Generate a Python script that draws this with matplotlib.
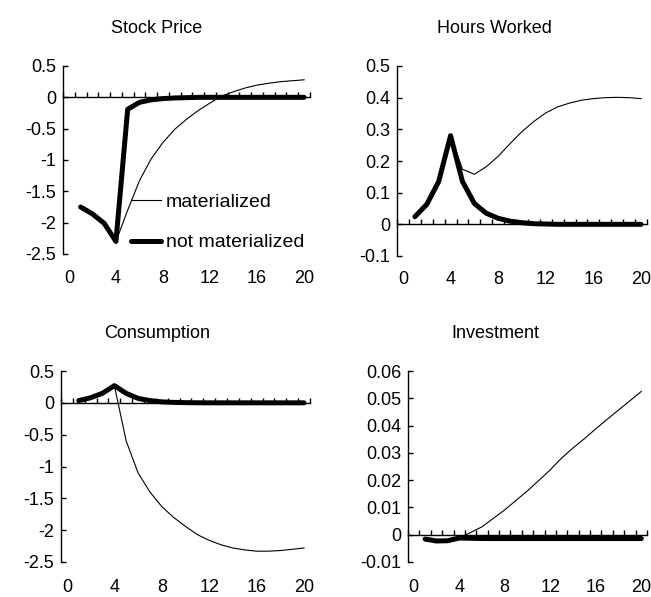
import numpy as np
import matplotlib
matplotlib.use("Agg")
import matplotlib.pyplot as plt

plt.rcParams["font.family"] = ["Liberation Sans", "DejaVu Sans"]
plt.rcParams["axes.unicode_minus"] = False

# quarters after the news shock
periods = list(range(1, 21))
series_labels = ["materialized", "not materialized"]

# Stock Price
stock_mat = [-1.75, -1.86, -2.01, -2.30, -1.80, -1.33, -0.98, -0.72, -0.51, -0.35,
             -0.21, -0.09, 0.02, 0.09, 0.15, 0.195, 0.225, 0.25, 0.265, 0.28]
stock_not = [-1.75, -1.86, -2.01, -2.30, -0.19, -0.08, -0.04, -0.02, -0.01, -0.005,
             0.0, 0.0, 0.0, 0.0, 0.0, 0.0, 0.0, 0.0, 0.0, 0.0]

# Hours Worked
hours_mat = [0.024, 0.063, 0.135, 0.28, 0.174, 0.158, 0.182, 0.215, 0.255, 0.293,
             0.325, 0.352, 0.371, 0.383, 0.392, 0.397, 0.400, 0.401, 0.400, 0.397]
hours_not = [0.024, 0.063, 0.135, 0.28, 0.135, 0.066, 0.035, 0.019, 0.010, 0.005,
             0.002, 0.001, 0.0, 0.0, 0.0, 0.0, 0.0, 0.0, 0.0, 0.0]

# Consumption
cons_mat = [0.035, 0.08, 0.15, 0.27, -0.60, -1.10, -1.40, -1.63, -1.80, -1.94,
            -2.07, -2.16, -2.23, -2.28, -2.31, -2.33, -2.33, -2.32, -2.30, -2.28]
cons_not = [0.035, 0.08, 0.15, 0.27, 0.149, 0.07, 0.035, 0.015, 0.007, 0.003,
            0.001, 0.0, 0.0, 0.0, 0.0, 0.0, 0.0, 0.0, 0.0, 0.0]

# Investment
inv_mat = [-0.0016, -0.0023, -0.0022, -0.0012, 0.0008, 0.0029, 0.0060, 0.0091, 0.0126, 0.0161,
           0.0199, 0.0238, 0.0281, 0.0318, 0.0352, 0.0388, 0.0423, 0.0457, 0.0491, 0.0525]
inv_not = [-0.0016, -0.0023, -0.0022, -0.0012, -0.0013, -0.0014, -0.0014, -0.0014, -0.0014, -0.0014,
           -0.0014, -0.0014, -0.0014, -0.0014, -0.0014, -0.0014, -0.0014, -0.0014, -0.0014, -0.0014]

titles = ["Stock Price", "Hours Worked", "Consumption", "Investment"]

stock_ticks = [0.5, 0, -0.5, -1, -1.5, -2, -2.5]
stock_ticklabels = ["0.5", "0", "-0.5", "-1", "-1.5", "-2", "-2.5"]
hours_ticks = [0.5, 0.4, 0.3, 0.2, 0.1, 0, -0.1]
hours_ticklabels = ["0.5", "0.4", "0.3", "0.2", "0.1", "0", "-0.1"]
inv_ticks = [0.06, 0.05, 0.04, 0.03, 0.02, 0.01, 0, -0.01]
inv_ticklabels = ["0.06", "0.05", "0.04", "0.03", "0.02", "0.01", "0", "-0.01"]

x_ticks = [0, 4, 8, 12, 16, 20]
x_ticklabels = ["0", "4", "8", "12", "16", "20"]

W, H = 651, 597


def px_rect(left, right, top, bottom):
	return [left / W, 1 - bottom / H, (right - left) / W, (bottom - top) / H]


def style_axes(ax, yticks, yticklabels, title, title_x, xpad):
	ax.set_xlim(-0.5, 20.5)
	ax.set_ylim(yticks[-1], yticks[0])
	for side in ["right", "bottom"]:
		ax.spines[side].set_visible(False)
	# category axis crosses at zero, tick marks between categories
	ax.spines["top"].set_position(("data", 0))
	ax.spines["top"].set_linewidth(1.0)
	ax.spines["left"].set_linewidth(1.0)

	ax.set_xticks(x_ticks)
	ax.set_xticklabels(x_ticklabels)
	ax.set_xticks(np.arange(-0.5, 21, 1.0), minor=True)
	ax.tick_params(axis="x", which="major", bottom=False, top=False,
				   labelbottom=True, labeltop=False, labelsize=13, pad=xpad)
	ax.tick_params(axis="x", which="minor", bottom=False, top=True,
				   direction="out", length=3.8, width=1.0)

	ax.set_yticks(yticks)
	ax.set_yticklabels(yticklabels)
	ax.tick_params(axis="y", direction="in", length=3.8, width=1.0,
				   labelsize=13, pad=5)
	ax.set_title(title, x=title_x, fontsize=13, pad=24)


def main() -> None:
	fig = plt.figure(figsize=(W / 100, H / 100), dpi=100)

	panels = [
		(px_rect(63, 310, 66, 254), stock_mat, stock_not, stock_ticks, stock_ticklabels, 0.38, 8),
		(px_rect(397, 647, 66, 256), hours_mat, hours_not, hours_ticks, hours_ticklabels, 0.39, 7),
		(px_rect(61, 310, 371, 562), cons_mat, cons_not, stock_ticks, stock_ticklabels, 0.385, 8.5),
		(px_rect(408, 647, 371, 562), inv_mat, inv_not, inv_ticks, inv_ticklabels, 0.365, 8.5),
	]

	axes = []
	for (rect, mat, notm, yt, ytl, tx, xpad), title in zip(panels, titles):
		ax = fig.add_axes(rect)
		ax.plot(periods, mat, color="black", lw=0.8, label=series_labels[0])
		ax.plot(periods, notm, color="black", lw=3.6, solid_capstyle="round",
				label=series_labels[1])
		style_axes(ax, yt, ytl, title, tx, xpad)
		axes.append(ax)

	axes[0].legend(loc="upper left", bbox_to_anchor=(0.275, 0.325), frameon=False,
				   fontsize=14, handlelength=1.55, handletextpad=0.25,
				   labelspacing=1.2, borderpad=0, borderaxespad=0)

	fig.savefig("out.png", dpi=100)


if __name__ == "__main__":
	main()
